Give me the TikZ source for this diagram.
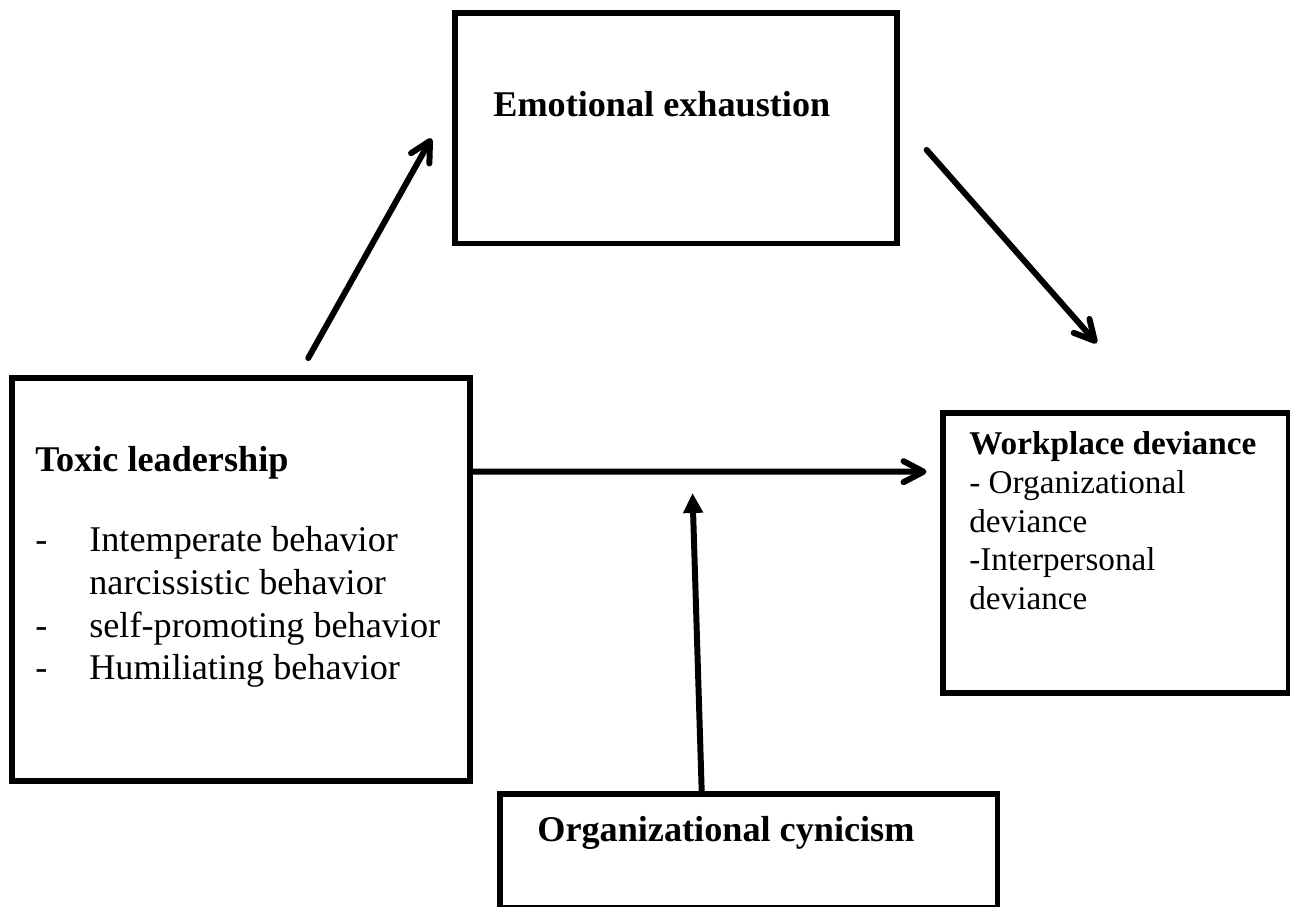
\documentclass[tikz,border=0pt]{standalone}
\usepackage{fontspec}
\setmainfont{Liberation Serif}
\usetikzlibrary{positioning, arrows.meta}

\begin{document}
\begin{tikzpicture}

% \draw[help lines] (0,0) grid (26,-18);
\useasboundingbox (0,0) rectangle (25.8,-18.14);

\tikzstyle{vbox}=[draw=black, line width=3.2pt, shape=rectangle, inner sep=0pt];
\tikzstyle{vtitle}=[anchor=base west, inner sep=0pt,
font=\fontsize{20.6}{24.3}\selectfont\bfseries];
\tikzstyle{vtext}=[anchor=base west, inner sep=0pt,
font=\fontsize{20.6}{24.3}\selectfont];
\tikzstyle{path1}=[line width=3.4pt, line cap=round,
-{Straight Barb[length=4mm, width=4.2mm, round]}];
\tikzstyle{path2}=[line width=3.4pt, -{Triangle[length=4mm, width=3.8mm]}];

\node[vbox, minimum width=8.83cm, minimum height=4.61cm] (ee) at (13.52,-2.565) {};
\node[vbox, minimum width=9.154cm, minimum height=8.054cm] (tl) at (4.817,-11.593) {};
\node[vbox, minimum width=6.91cm, minimum height=5.6cm] (wd) at (22.315,-11.06) {};
\node[vbox, minimum width=9.956cm, minimum height=2.276cm] (oc) at (14.972,-17.022) {};

\node[vtitle] (eet) at (9.86,-2.34) {Emotional exhaustion};
\node[vtitle] (tlt) at (0.70,-9.434) {Toxic leadership};
\node[vtext] (tll) at (0.70,-11.034) {\begin{tabular}[t]{@{}p{1.08cm}@{}l@{}}
- & Intemperate behavior\\
  & narcissistic behavior\\
- & self-promoting behavior\\
- & Humiliating behavior
\end{tabular}};
\node[vtext, font=\fontsize{18.9}{22}\selectfont] (wdt) at (19.38,-9.10) {\begin{tabular}[t]{@{}l@{}}
\textbf{Workplace deviance}\\
- Organizational\\
deviance\\
-Interpersonal\\
deviance
\end{tabular}};
\node[vtitle] (oct) at (10.74,-16.83) {Organizational cynicism};

% lines
\draw [path1, shorten <=0.40cm, shorten >=0.858cm] ([xshift=1.153cm]tl.north) -- ([yshift=0.548cm]ee.west);
\draw [path1, shorten <=0.82cm, shorten >=1.786cm] ([yshift=0.182cm]ee.east) -- ([xshift=0.80cm]wd.north);
\draw [path1, shorten >=0.274cm] ([yshift=2.159cm]tl.east) -- coordinate[pos=0.469] (mod) ([yshift=1.626cm]wd.west);
\draw [path2, shorten >=0.426cm] ([xshift=-0.938cm]oc.north) -- (mod);

\end{tikzpicture}
\end{document}
